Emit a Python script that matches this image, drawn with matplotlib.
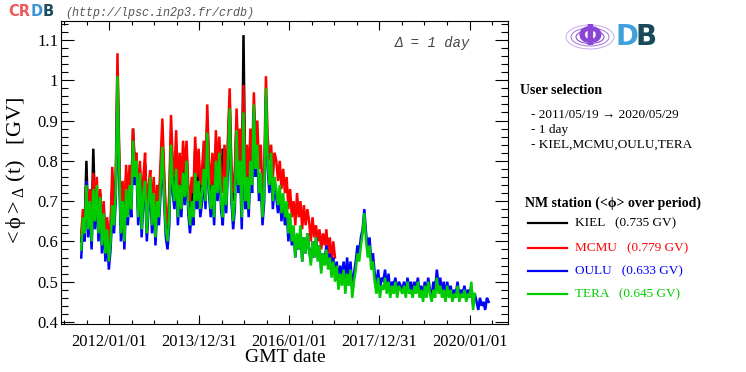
import matplotlib
matplotlib.use("Agg")
import matplotlib.pyplot as plt
import matplotlib.dates as mdates
from matplotlib.patches import Ellipse
from matplotlib.ticker import MultipleLocator, FuncFormatter, FixedLocator
import pandas as pd

plt.rcParams['font.family'] = ['Liberation Serif', 'DejaVu Serif']
plt.rcParams['mathtext.fontset'] = 'stix'
plt.rcParams['mathtext.default'] = 'regular'

# <phi> values, one every 14 days from 2011/05/19
kiel = [0.60, 0.66, 0.64, 0.80, 0.65, 0.72, 0.63, 0.83, 0.67, 0.74,
        0.64, 0.72, 0.61, 0.69, 0.59, 0.65, 0.57, 0.63, 0.74, 0.66,
        0.73, 1.03, 0.80, 0.64, 0.73, 0.62, 0.76, 0.68, 0.77, 0.70,
        0.88, 0.78, 0.80, 0.68, 0.78, 0.65, 0.74, 0.79, 0.64, 0.72,
        0.75, 0.66, 0.74, 0.63, 0.72, 0.68, 0.77, 0.86, 0.75, 0.65,
        0.62, 0.69, 0.87, 0.77, 0.73, 0.84, 0.69, 0.79, 0.71, 0.82,
        0.74, 0.82, 0.71, 0.67, 0.73, 0.69, 0.83, 0.74, 0.80, 0.72,
        0.75, 0.82, 0.74, 0.90, 0.77, 0.71, 0.79, 0.70, 0.84, 0.76,
        0.83, 0.74, 0.83, 0.81, 0.72, 0.83, 0.95, 0.76, 0.70, 0.76,
        0.90, 0.78, 0.85, 0.70, 1.112, 0.74, 0.81, 0.73, 0.85, 0.78,
        0.93, 0.81, 0.86]

mcmu = [0.62, 0.68, 0.65, 0.75, 0.66, 0.73, 0.64, 0.77, 0.68, 0.76,
        0.65, 0.73, 0.62, 0.70, 0.60, 0.66, 0.58, 0.64, 0.785, 0.68,
        0.76, 1.067, 0.82, 0.66, 0.75, 0.64, 0.79, 0.70, 0.79, 0.72,
        0.88, 0.80, 0.82, 0.70, 0.80, 0.67, 0.76, 0.82, 0.66, 0.74,
        0.777, 0.68, 0.76, 0.65, 0.74, 0.70, 0.80, 0.905, 0.78, 0.67,
        0.64, 0.72, 0.914, 0.80, 0.76, 0.876, 0.72, 0.82, 0.74, 0.85,
        0.77, 0.85, 0.74, 0.70, 0.76, 0.72, 0.86, 0.76, 0.83, 0.74,
        0.78, 0.85, 0.76, 0.94, 0.80, 0.74, 0.82, 0.72, 0.876, 0.78,
        0.86, 0.76, 0.72, 0.84, 0.75, 0.86, 0.98, 0.78, 0.72, 0.78,
        0.93, 0.80, 0.88, 0.72, 0.988, 0.76, 0.84, 0.75, 0.88, 0.80,
        0.97, 0.84, 0.90, 0.78, 0.84, 0.72, 0.78, 1.01, 0.86, 0.80,
        0.84, 0.76, 0.82, 0.80, 0.75, 0.80, 0.73, 0.78, 0.72, 0.76,
        0.68, 0.73, 0.66, 0.70, 0.64, 0.72, 0.66, 0.70, 0.63, 0.69,
        0.64, 0.68, 0.65, 0.60, 0.66, 0.61, 0.64, 0.60, 0.63, 0.58,
        0.62, 0.59, 0.63, 0.57, 0.61, 0.55, 0.60, 0.56]

oulu = [0.56, 0.64, 0.60, 0.75, 0.61, 0.68, 0.58, 0.71, 0.63, 0.72,
        0.60, 0.69, 0.57, 0.65, 0.55, 0.61, 0.53, 0.58, 0.67, 0.62,
        0.70, 0.98, 0.76, 0.60, 0.68, 0.58, 0.71, 0.64, 0.72, 0.66,
        0.83, 0.74, 0.78, 0.64, 0.75, 0.61, 0.70, 0.73, 0.60, 0.68,
        0.74, 0.62, 0.70, 0.59, 0.68, 0.64, 0.72, 0.81, 0.70, 0.61,
        0.58, 0.64, 0.82, 0.72, 0.68, 0.76, 0.64, 0.72, 0.66, 0.75,
        0.69, 0.78, 0.67, 0.62, 0.68, 0.64, 0.75, 0.68, 0.73, 0.66,
        0.70, 0.76, 0.68, 0.85, 0.72, 0.66, 0.72, 0.64, 0.78, 0.70,
        0.80, 0.68, 0.64, 0.74, 0.67, 0.78, 0.91, 0.70, 0.63, 0.68,
        0.86, 0.72, 0.78, 0.63, 0.90, 0.68, 0.74, 0.66, 0.78, 0.72,
        0.92, 0.76, 0.82, 0.70, 0.75, 0.64, 0.70, 0.96, 0.78, 0.72,
        0.80, 0.68, 0.74, 0.71, 0.67, 0.72, 0.65, 0.70, 0.64, 0.68,
        0.60, 0.65, 0.59, 0.63, 0.56, 0.61, 0.58, 0.63, 0.55, 0.61,
        0.57, 0.62, 0.58, 0.55, 0.60, 0.56, 0.61, 0.56, 0.59, 0.53,
        0.57, 0.55, 0.59, 0.54, 0.57, 0.52, 0.56, 0.52, 0.55, 0.50,
        0.54, 0.51, 0.55, 0.50, 0.56, 0.51, 0.55, 0.48, 0.52, 0.55,
        0.59, 0.57, 0.61, 0.63, 0.68, 0.62, 0.58, 0.61, 0.55, 0.57,
        0.52, 0.49, 0.53, 0.48, 0.51, 0.50, 0.53, 0.48, 0.52, 0.47,
        0.50, 0.49, 0.51, 0.47, 0.50, 0.49, 0.48, 0.50, 0.47, 0.51,
        0.48, 0.50, 0.47, 0.50, 0.48, 0.51, 0.47, 0.49, 0.46, 0.50,
        0.47, 0.51, 0.48, 0.46, 0.50, 0.48, 0.53, 0.49, 0.51, 0.47,
        0.50, 0.46, 0.50, 0.47, 0.49, 0.46, 0.48, 0.47, 0.50, 0.46,
        0.48, 0.47, 0.49, 0.46, 0.48, 0.47, 0.49, 0.44, 0.47, 0.45,
        0.43, 0.46, 0.44, 0.45, 0.43, 0.46, 0.45]

tera = [0.58, 0.66, 0.62, 0.74, 0.63, 0.70, 0.60, 0.73, 0.65, 0.74,
        0.62, 0.71, 0.59, 0.67, 0.57, 0.63, 0.55, 0.60, 0.69, 0.64,
        0.72, 1.01, 0.78, 0.62, 0.70, 0.60, 0.73, 0.66, 0.74, 0.68,
        0.85, 0.76, 0.80, 0.66, 0.77, 0.63, 0.72, 0.75, 0.62, 0.70,
        0.76, 0.64, 0.72, 0.61, 0.70, 0.66, 0.74, 0.835, 0.72, 0.63,
        0.60, 0.66, 0.84, 0.74, 0.70, 0.78, 0.66, 0.74, 0.68, 0.77,
        0.71, 0.80, 0.69, 0.64, 0.70, 0.66, 0.77, 0.70, 0.75, 0.68,
        0.72, 0.78, 0.70, 0.87, 0.74, 0.68, 0.74, 0.66, 0.80, 0.72,
        0.82, 0.70, 0.66, 0.76, 0.69, 0.80, 0.93, 0.72, 0.65, 0.70,
        0.876, 0.74, 0.80, 0.66, 0.92, 0.70, 0.76, 0.68, 0.80, 0.74,
        0.94, 0.78, 0.84, 0.72, 0.77, 0.66, 0.72, 0.98, 0.80, 0.74,
        0.82, 0.70, 0.76, 0.73, 0.69, 0.74, 0.67, 0.72, 0.66, 0.70,
        0.62, 0.67, 0.60, 0.64, 0.56, 0.62, 0.58, 0.64, 0.55, 0.61,
        0.57, 0.62, 0.58, 0.54, 0.60, 0.56, 0.61, 0.55, 0.59, 0.52,
        0.57, 0.54, 0.58, 0.53, 0.56, 0.51, 0.55, 0.50, 0.54, 0.48,
        0.52, 0.49, 0.53, 0.47, 0.52, 0.49, 0.53, 0.46, 0.50, 0.53,
        0.57, 0.55, 0.59, 0.62, 0.67, 0.60, 0.56, 0.59, 0.53, 0.55,
        0.50, 0.47, 0.51, 0.46, 0.49, 0.48, 0.51, 0.47, 0.50, 0.46,
        0.49, 0.47, 0.50, 0.46, 0.49, 0.48, 0.47, 0.49, 0.46, 0.50,
        0.47, 0.48, 0.46, 0.49, 0.47, 0.50, 0.46, 0.48, 0.45, 0.49,
        0.46, 0.50, 0.47, 0.45, 0.48, 0.46, 0.51, 0.47, 0.49, 0.46,
        0.48, 0.45, 0.49, 0.46, 0.48, 0.45, 0.47, 0.46, 0.49, 0.45,
        0.47, 0.46, 0.48, 0.45, 0.47, 0.46, 0.50, 0.43, 0.47]

stations = ['KIEL', 'MCMU', 'OULU', 'TERA']
station_means = [0.735, 0.779, 0.633, 0.645]
station_colors = ['#000000', '#ff0000', '#0000ff', '#00cc00']
series = [kiel, mcmu, oulu, tera]

major_labels = ['2012/01/01', '2013/12/31', '2016/01/01', '2017/12/31', '2020/01/01']
selection = ['- 2011/05/19 \u2192 2020/05/29', '- 1 day', '- KIEL,MCMU,OULU,TERA']

W, H = 746, 372


def fx(x):
    return x / W


def fy(y):
    return 1 - y / H


fig = plt.figure(figsize=(7.46, 3.72), dpi=100)
ax = fig.add_axes([fx(61), fy(324), fx(508) - fx(61), fy(21) - fy(324)])

for vals, col in zip(series, station_colors):
    dates = pd.date_range('2011-05-19', periods=len(vals), freq='14D')
    ax.plot(dates, vals, color=col, lw=1.8, solid_joinstyle='miter')

ax.set_xlim(pd.Timestamp('2010-12-06'), pd.Timestamp('2020-11-08'))
ax.set_ylim(0.395, 1.147)

major_pos = [mdates.date2num(pd.Timestamp(s.replace('/', '-'))) for s in major_labels]
ax.xaxis.set_major_locator(FixedLocator(major_pos))
ax.set_xticklabels(major_labels)
minor_pos = [major_pos[0] + k * 182.625 for k in range(-2, 20)]
ax.xaxis.set_minor_locator(FixedLocator(minor_pos))

ax.yaxis.set_major_locator(MultipleLocator(0.1))
ax.yaxis.set_minor_locator(MultipleLocator(0.02))
ax.yaxis.set_major_formatter(FuncFormatter(lambda v, p: '%g' % round(v, 2)))

ax.tick_params(axis='both', which='both', direction='in', top=True, right=True,
               width=0.8, labelsize=12)
ax.tick_params(axis='y', which='major', length=9.5, pad=2)
ax.tick_params(axis='y', which='minor', length=5)
ax.tick_params(axis='x', which='major', length=6.5, pad=7)
ax.tick_params(axis='x', which='minor', length=3)
for sp in ax.spines.values():
    sp.set_linewidth(0.8)

fig.text(fx(285), fy(358), 'GMT date', ha='center', va='center', fontsize=14)
fig.text(fx(16), fy(172), r'$<\phi>_{\Delta}\ (t)\ \ \ [GV]$', rotation=90,
         ha='center', va='center', fontsize=16)

fig.text(fx(470), fy(43), '\u0394 = 1 day', ha='right', va='center', fontsize=10,
         family=['Liberation Mono', 'DejaVu Sans Mono'], style='italic', color='#444444')

# CRDB header
fig.text(fx(8), fy(12), 'CR', ha='left', va='center', fontsize=10.5, weight='bold',
         family='DejaVu Sans', color='#f0595b')
fig.text(fx(31), fy(12), 'D', ha='left', va='center', fontsize=10.5, weight='bold',
         family='DejaVu Sans', color='#3a95d4')
fig.text(fx(43), fy(12), 'B', ha='left', va='center', fontsize=10.5, weight='bold',
         family='DejaVu Sans', color='#1d4d60')
fig.text(fx(65), fy(13), '(http://lpsc.in2p3.fr/crdb)', ha='left', va='center',
         fontsize=8.5, family=['Liberation Mono', 'DejaVu Sans Mono'], style='italic',
         color='#555555')

# phiDB logo
for w, h, c in [(48, 24, '#c9a6ee'), (38, 18, '#a070dd'), (28, 13, '#7f3fcf')]:
    fig.add_artist(Ellipse((fx(590), fy(37)), fx(w), h / H, fill=False, lw=0.7,
                           edgecolor=c, transform=fig.transFigure))
fig.text(fx(590), fy(37), '\u03a6', ha='center', va='center', fontsize=21,
         family='DejaVu Sans', weight='bold', color='#8a45d6')
fig.text(fx(615), fy(37), 'D', ha='left', va='center', fontsize=20, weight='bold',
         family='DejaVu Sans', color='#3fa0dc')
fig.text(fx(636), fy(37), 'B', ha='left', va='center', fontsize=20, weight='bold',
         family='DejaVu Sans', color='#184a5c')

fig.text(fx(520), fy(91), 'User selection', ha='left', va='center', fontsize=10,
         weight='bold')
for k, line in enumerate(selection):
    fig.text(fx(531), fy(114.5 + 15 * k), line, ha='left', va='center', fontsize=9.5)

fig.text(fx(525), fy(203), 'NM station (<\u03d5> over period)', ha='left', va='center',
         fontsize=10, weight='bold')
leg_y = [223, 248, 271, 294]
for name, mean, col, yy in zip(stations, station_means, station_colors, leg_y):
    fig.add_artist(plt.Line2D([fx(528), fx(567)], [fy(yy), fy(yy)], color=col, lw=1.6,
                              transform=fig.transFigure))
    fig.text(fx(575), fy(yy), '%s   (%.3f GV)' % (name, mean), ha='left', va='center',
             fontsize=9.5, color=col)

fig.savefig('out.png', dpi=100)
